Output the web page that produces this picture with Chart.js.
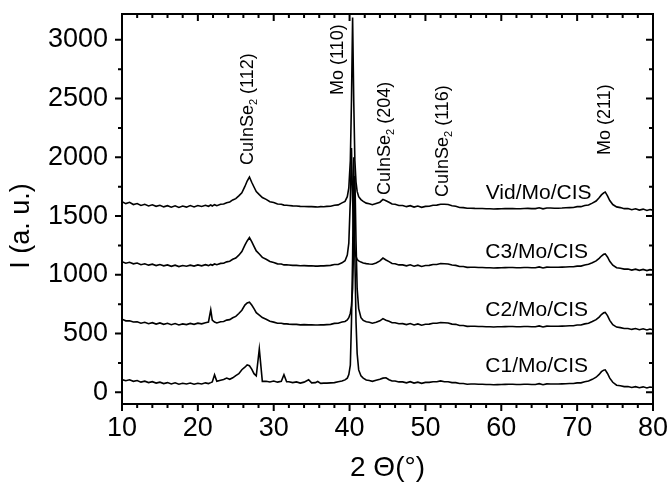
<!DOCTYPE html>
<html><head><meta charset="utf-8">
<script src="https://cdn.jsdelivr.net/npm/chart.js@4/dist/chart.umd.min.js"></script>
<style>html,body{margin:0;padding:0;background:#fff;}canvas{display:block;}</style>
</head><body>
<canvas id="c" width="672" height="491"></canvas>
<script>
// ---- data (2θ grid shared by all four patterns) ----
const twoTheta = [
10,10.5,11,11.5,12,12.5,13,13.5,14,14.5,
15,15.5,16,16.5,17,17.5,18,18.5,19,19.5,20,
20.5,21,21.4,21.7,21.9,22.2,22.5,23,23.4,23.8,
24.2,24.6,25,25.4,25.8,26.2,26.5,26.8,27.1,27.4,
27.7,28.1,28.5,29,29.5,30,30.5,31,31.35,31.7,
32,32.5,33,33.5,34,34.6,35,35.5,35.8,36.2,
36.6,37,37.5,38,38.5,39,39.4,39.7,39.9,40.1,
40.25,40.4,40.55,40.7,40.85,41,41.2,41.5,41.8,42.2,
42.6,43,43.5,44,44.4,44.8,45.2,45.6,46,46.5,
47,47.5,48,48.5,49,49.5,50,50.5,51,51.5,
52,52.5,53,53.5,54,54.5,55,55.5,56,56.5,
57,57.5,58,58.5,59,59.5,60,60.5,61,61.5,
62,62.5,63,63.5,64,64.5,65,65.5,66,66.5,
67,67.5,68,68.5,69,69.5,70,70.5,71,71.5,
72,72.5,72.9,73.2,73.5,73.7,74,74.3,74.7,75.2,
75.7,76.2,76.7,77.2,77.7,78.2,78.7,79.2,79.6,80];

const vidMoCIS = [
1622,1606,1617,1598,1606,1590,1600,1586,1596,1583,
1592,1578,1588,1575,1587,1573,1585,1576,1589,1578,1590,
1581,1592,1583,1594,1586,1597,1588,1600,1603,1614,
1620,1637,1648,1672,1698,1752,1798,1832,1788,1747,
1708,1682,1658,1642,1622,1615,1602,1600,1593,1592,
1590,1587,1585,1582,1581,1580,1580,1578,1577,1580,
1579,1582,1583,1592,1595,1612,1625,1665,1740,1970,
2480,3190,2480,1970,1790,1710,1665,1640,1625,1610,
1604,1596,1607,1618,1642,1630,1617,1602,1600,1590,
1590,1580,1588,1576,1585,1574,1582,1583,1592,1593,
1600,1600,1598,1588,1584,1573,1572,1566,1567,1565,
1564,1564,1562,1562,1560,1561,1562,1563,1563,1564,
1562,1562,1564,1565,1563,1563,1570,1561,1568,1568,
1567,1567,1568,1570,1572,1573,1580,1580,1590,1594,
1610,1628,1655,1680,1698,1705,1672,1632,1598,1578,
1572,1563,1564,1554,1562,1551,1559,1548,1556,1550];

const c3MoCIS = [
1112,1098,1106,1093,1100,1086,1094,1082,1090,1078,
1087,1076,1084,1072,1082,1070,1079,1073,1082,1074,1084,
1076,1086,1078,1088,1081,1092,1086,1097,1098,1110,
1116,1132,1143,1167,1198,1252,1288,1317,1283,1242,
1203,1177,1148,1132,1113,1104,1093,1092,1084,1084,
1083,1080,1080,1077,1078,1076,1077,1074,1074,1076,
1076,1078,1080,1088,1088,1102,1120,1167,1270,1640,
2080,1640,1320,1205,1155,1130,1118,1108,1100,1095,
1092,1090,1100,1118,1142,1126,1112,1096,1094,1084,
1084,1076,1085,1073,1082,1071,1079,1080,1088,1088,
1096,1094,1092,1083,1080,1070,1070,1063,1064,1064,
1062,1062,1060,1060,1058,1059,1060,1061,1062,1062,
1060,1060,1062,1062,1060,1060,1067,1058,1065,1064,
1064,1064,1065,1066,1068,1068,1074,1074,1084,1090,
1102,1118,1140,1160,1174,1178,1152,1115,1082,1060,
1056,1048,1049,1040,1048,1038,1046,1036,1044,1040];

const c2MoCIS = [
622,608,608,598,600,588,596,583,592,580,
590,578,587,575,585,573,582,576,586,578,588,
582,592,598,702,615,598,590,600,602,614,
618,634,646,670,698,742,760,767,743,712,
678,657,636,622,604,597,588,588,582,582,
580,578,578,574,576,574,575,572,573,574,
574,576,578,586,588,598,602,615,635,673,
738,882,1286,1840,1286,882,711,635,612,600,
596,588,596,608,627,613,604,592,592,583,
584,576,585,573,582,571,579,580,588,588,
594,592,590,580,578,568,568,561,562,562,
560,560,558,558,556,557,558,559,560,560,
558,558,560,560,558,558,565,556,563,562,
562,562,563,564,566,566,572,572,582,588,
602,618,640,662,676,680,652,612,575,555,
550,543,543,535,542,532,540,530,538,532];

const c1MoCIS = [
108,98,106,93,100,86,94,82,90,78,
86,74,82,70,80,68,76,70,78,68,76,
70,80,74,82,88,148,93,102,108,121,
110,123,142,158,192,213,232,226,197,158,
140,368,93,94,88,96,86,94,149,90,
90,82,88,78,86,106,80,82,92,76,
78,78,80,82,90,95,105,120,150,230,
600,1150,2000,1150,600,330,190,140,120,105,
100,93,102,110,120,123,107,96,96,88,
88,80,90,78,86,76,84,84,90,90,
97,90,90,82,82,74,74,68,70,70,
68,68,66,66,64,65,66,67,68,68,
66,66,68,68,66,66,73,64,71,70,
70,70,71,72,74,74,80,80,90,96,
110,128,152,175,188,191,160,120,85,60,
56,48,49,41,48,38,46,36,44,40];

const seriesNames = ['Vid/Mo/CIS','C3/Mo/CIS','C2/Mo/CIS','C1/Mo/CIS'];
const seriesValues = [vidMoCIS, c3MoCIS, c2MoCIS, c1MoCIS];
const xTickValues = [10,20,30,40,50,60,70,80];
const yTickValues = [0,500,1000,1500,2000,2500,3000];
const xTitle = '2 \u0398(\u00B0)';
const yTitle = 'I (a. u.)';

// peak labels (rotated) and sample labels, anchored in data coordinates
const peakLabels = [
  {parts:['CuInSe','_2',' (112)'], at:[26.65,1934]},
  {parts:['Mo (110)'], at:[38.47,2530]},
  {parts:['CuInSe','_2',' (204)'], at:[44.64,1679]},
  {parts:['CuInSe','_2',' (116)'], at:[52.36,1662]},
  {parts:['Mo (211)'], at:[73.66,2020]}
];
const sampleLabelAt = [[57.95,1694],[57.9,1196],[57.9,700],[57.9,218]];

const REG = '"Liberation Sans", Arial, sans-serif';
const TICK_SIZE = 27;

function drawParts(ctx, parts, size, fam){
  let x=0;
  for(const p of parts){
    const sub = p.startsWith('_');
    const t = sub ? p.slice(1) : p;
    ctx.font = (sub ? Math.round(size*0.62) : size)+'px '+fam;
    ctx.fillText(t, x, sub ? size*0.33 : 0);
    x += ctx.measureText(t).width;
  }
}

const decor = {
  id:'decor',
  afterDatasetsDraw(chart){
    const {ctx, chartArea:a, scales:{x,y}} = chart;
    ctx.save();
    ctx.strokeStyle='#000'; ctx.fillStyle='#000';
    ctx.lineWidth=2;
    ctx.strokeRect(a.left, a.top, a.right-a.left, a.bottom-a.top);
    ctx.beginPath();
    for(let v=10; v<=80; v+=2){
      const major = v%10===0, L = major?7:4, px = x.getPixelForValue(v);
      ctx.moveTo(px, a.bottom); ctx.lineTo(px, a.bottom+L);
      ctx.moveTo(px, a.top); ctx.lineTo(px, a.top+L);
    }
    for(let v=0; v<=3000; v+=250){
      const major = v%500===0, L = major?7:4, py = y.getPixelForValue(v);
      ctx.moveTo(a.left, py); ctx.lineTo(a.left-L, py);
      ctx.moveTo(a.right, py); ctx.lineTo(a.right-L, py);
    }
    ctx.stroke();

    // rotated peak labels
    ctx.textAlign='left'; ctx.textBaseline='middle';
    for(const lb of peakLabels){
      ctx.save();
      ctx.translate(x.getPixelForValue(lb.at[0]), y.getPixelForValue(lb.at[1]));
      ctx.rotate(-Math.PI/2);
      drawParts(ctx, lb.parts, 18, REG);
      ctx.restore();
    }
    // sample labels
    ctx.font = '21px '+REG;
    seriesNames.forEach((n,i)=>{
      ctx.fillText(n, x.getPixelForValue(sampleLabelAt[i][0]), y.getPixelForValue(sampleLabelAt[i][1]));
    });
    // y title
    ctx.save();
    ctx.translate(22, (a.top+a.bottom)/2 + 17);
    ctx.rotate(-Math.PI/2);
    ctx.textAlign='center';
    ctx.font='27px '+REG;
    ctx.fillText(yTitle, 0, 0);
    ctx.restore();
    ctx.restore();
  }
};

const datasets = seriesNames.map((n,i)=>({
  label:n,
  data: twoTheta.map((t,j)=>({x:t, y:seriesValues[i][j]})),
  borderColor:'#000', borderWidth:1.6, pointRadius:0, tension:0, fill:false
}));

new Chart(document.getElementById('c'), {
  type:'line',
  data:{datasets},
  plugins:[decor],
  options:{
    responsive:false, animation:false,
    layout:{padding:{top:0,right:19,left:0,bottom:0}},
    plugins:{legend:{display:false}, tooltip:{enabled:false}},
    scales:{
      x:{type:'linear', min:10, max:80,
        grid:{display:false, drawTicks:false}, border:{display:false},
        afterBuildTicks(s){ s.ticks = xTickValues.map(v=>({value:v})); },
        ticks:{autoSkip:false, maxRotation:0, padding:8, color:'#000', font:{family:REG, size:TICK_SIZE},
               callback:(v)=>String(v)},
        title:{display:true, text:xTitle, color:'#000', font:{family:REG, size:28}, padding:{top:0,bottom:6}},
        afterFit(s){ s.height = 87; s.paddingLeft = 0; s.paddingRight = 0; }
      },
      y:{type:'linear', min:-100, max:3220,
        grid:{display:false, drawTicks:false}, border:{display:false},
        afterBuildTicks(s){ s.ticks = yTickValues.map(v=>({value:v})); },
        ticks:{autoSkip:false, padding:14, color:'#000', font:{family:REG, size:TICK_SIZE},
               callback:(v)=>String(v)},
        afterFit(s){ s.width = 122; s.paddingTop = 14; s.paddingBottom = 0; }
      }
    }
  }
});
</script>
</body></html>
